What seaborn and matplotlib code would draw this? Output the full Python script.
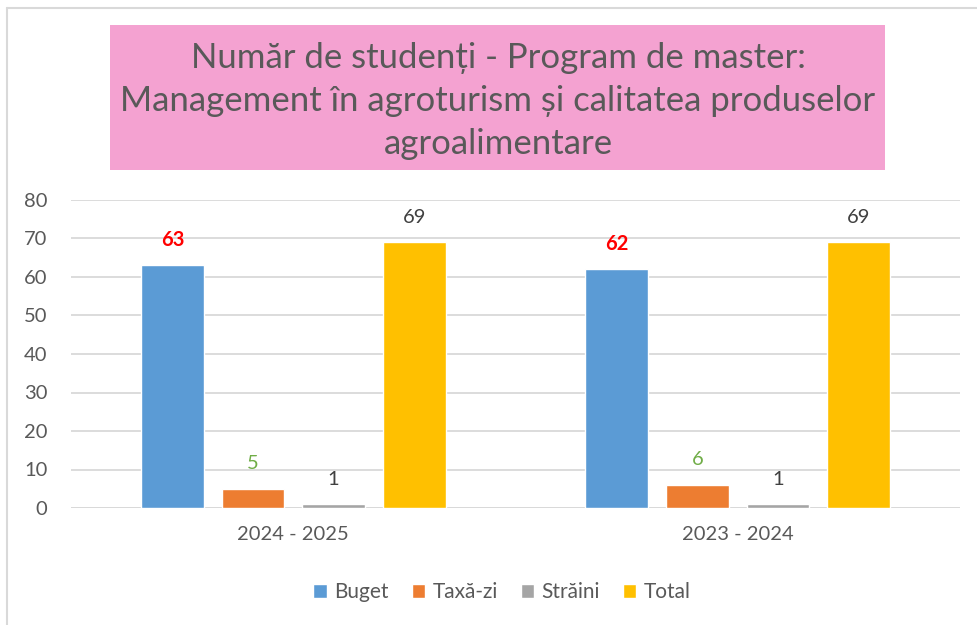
import matplotlib
matplotlib.use("Agg")
import matplotlib.pyplot as plt
import seaborn as sns
import pandas as pd
from matplotlib.patches import Rectangle

years = ["2024 - 2025", "2023 - 2024"]
series = ["Buget", "Taxă-zi", "Străini", "Total"]
buget = [63, 62]
taxa = [5, 6]
straini = [1, 1]
total = [69, 69]
colors = ["#5B9BD5", "#ED7D31", "#A5A5A5", "#FFC000"]
label_colors = ["#FF0000", "#70AD47", "#404040", "#404040"]
label_weights = ["bold", "normal", "normal", "normal"]
title = "Număr de studenți - Program de master:\nManagement în agroturism și calitatea produselor\nagroalimentare"

rows = []
for s, vals in zip(series, [buget, taxa, straini, total]):
    for y, v in zip(years, vals):
        rows.append({"An": y, "Serie": s, "Valoare": v})
df = pd.DataFrame(rows)

sns.set_style("white")
plt.rcParams["font.family"] = ["Lato", "DejaVu Sans"]

fig = plt.figure(figsize=(9.78, 6.25), dpi=100)
W, H = 978, 625
ax = fig.add_axes([71 / W, 1 - 508 / H, (960 - 71) / W, (508 - 200) / H])

sns.barplot(data=df, x="An", y="Valoare", hue="Serie", order=years, hue_order=series,
            palette=colors, width=0.725, gap=0.22, ax=ax, saturation=1, legend=True)

ax.set_xlim(-0.5, 1.5)
ax.set_ylim(0, 80)
ax.set_yticks(range(0, 81, 10))
ax.yaxis.grid(True, color="#D9D9D9", linewidth=1.3)
ax.set_axisbelow(True)
for sp in ax.spines.values():
    sp.set_visible(False)
ax.axhline(0, color="#D9D9D9", linewidth=1.3, zorder=0.5)
ax.set_xlabel("")
ax.set_ylabel("")
ax.tick_params(axis="both", length=0, labelsize=14.5, labelcolor="#595959")
ax.tick_params(axis="x", pad=13)
ax.tick_params(axis="y", pad=17)

for i, cont in enumerate(ax.containers):
    for bar in cont:
        h = bar.get_height()
        ax.annotate(f"{int(h)}", (bar.get_x() + bar.get_width() / 2, h),
                    xytext=(0, 18), textcoords="offset points", ha="center", va="center",
                    fontsize=14.5, color=label_colors[i], fontweight=label_weights[i])

handles, labels = ax.get_legend_handles_labels()
ax.get_legend().remove()
fig.legend(handles, labels, loc="center", bbox_to_anchor=(502 / W, 1 - 592 / H), ncol=4,
           frameon=False, fontsize=15, handlelength=0.65, handleheight=0.65,
           columnspacing=1.1, handletextpad=0.35, labelcolor="#595959")

# title box
fig.patches.append(Rectangle((110 / W, 1 - 170 / H), (885 - 110) / W, (170 - 25) / H,
                             transform=fig.transFigure, facecolor="#F4A2D1", edgecolor="none", zorder=0))
fig.text(498 / W, 1 - 101 / H, title, ha="center", va="center", fontsize=25,
         color="#595959", linespacing=1.42)

# outer border (chart frame, cropped)
fig.add_artist(plt.Line2D([7 / W, 7 / W], [0, 1 - 8 / H], transform=fig.transFigure, color="#D9D9D9", lw=1.5))
fig.add_artist(plt.Line2D([7 / W, 1], [1 - 8 / H, 1 - 8 / H], transform=fig.transFigure, color="#D9D9D9", lw=1.5))

fig.savefig("out.png", dpi=100)
